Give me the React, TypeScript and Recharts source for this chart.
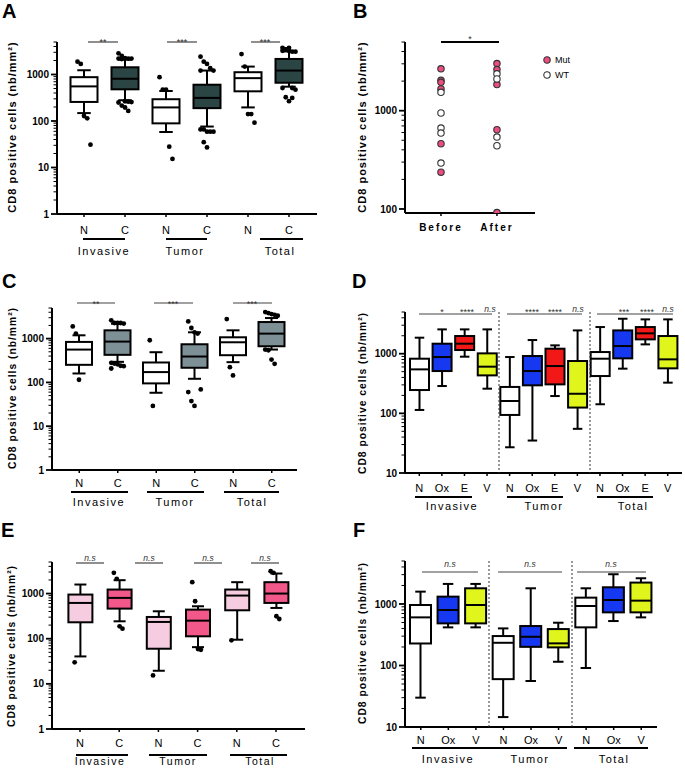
import React from 'react';
import { ComposedChart, ScatterChart, Bar, Scatter, XAxis, YAxis, Legend } from 'recharts';

const FONT = '"Liberation Sans", Arial, Helvetica, sans-serif';

// ---------------- Panel A ----------------
const aGroups = ['Invasive', 'Tumor', 'Total'];
const aCats = ['N', 'C', 'N', 'C', 'N', 'C'];
const aMin = [148, 280, 58, 76, 196, 547];
const aQ1 = [257, 480, 89, 189, 435, 665];
const aMed = [555, 810, 196, 314, 835, 1216];
const aQ3 = [876, 1430, 294, 603, 1120, 2160];
const aMax = [1235, 2085, 442, 1216, 1480, 3130];
const aOut = [
  [1890, 1690, 128, 114, 31],
  [2850, 2500, 2250, 2200, 2200, 2200, 2150, 265, 260, 255, 250, 215, 195, 165],
  [877, 472, 472, 28, 15.3],
  [2413, 1890, 1686, 1364, 1216, 1216, 66, 59, 59, 59, 66, 35, 27],
  [2753, 1480, 141, 141, 92],
  [3750, 3460, 3240, 3090, 3090, 3240, 3460, 3750, 512, 472, 512, 324, 267, 314],
];

// ---------------- Panel B ----------------
const bConds = ['Before', 'After'];
const bBeforeMut = [2664, 2037, 1945, 1664, 461, 237];
const bBeforeWT = [1537, 947, 666, 592, 293];
const bAfterMut = [3016, 2620, 1842, 640, 92];
const bAfterWT = [2370, 2107, 539, 440];

// ---------------- Panel C ----------------
const cGroups = ['Invasive', 'Tumor', 'Total'];
const cCats = ['N', 'C', 'N', 'C', 'N', 'C'];
const cMin = [160, 295, 58, 121, 290, 563];
const cQ1 = [252, 426, 95, 216, 418, 669];
const cMed = [562, 855, 172, 390, 825, 1300];
const cQ3 = [840, 1546, 285, 743, 1072, 2390];
const cMax = [1190, 2192, 489, 1393, 1546, 2950];
const cOut = [
  [1900, 1300, 115],
  [2610, 2270, 2270, 2270, 2200, 280, 270, 260, 240, 235, 208],
  [917, 29],
  [2475, 1746, 1393, 1300, 69, 60, 37.5, 29],
  [2800, 223, 144],
  [4030, 3830, 3630, 3500, 3330, 563, 543, 333, 266],
];

// ---------------- Panel D ----------------
const dGroups = ['Invasive', 'Tumor', 'Total'];
const dCats = ['N', 'Ox', 'E', 'V', 'N', 'Ox', 'E', 'V', 'N', 'Ox', 'E', 'V'];
const dMin = [114, 287, 891, 259, 27, 35, 195, 55, 142, 561, 1433, 327];
const dQ1 = [246, 512, 1152, 433, 94, 295, 306, 125, 422, 835, 1738, 568];
const dMed = [546, 879, 1471, 606, 161, 512, 621, 213, 824, 1344, 2193, 804];
const dQ3 = [824, 1471, 1978, 1013, 277, 914, 1213, 754, 1066, 2458, 2797, 1978];
const dMax = [1855, 2556, 2556, 2556, 879, 1694, 1379, 2458, 2797, 3855, 3761, 3761];

// ---------------- Panel E ----------------
const eGroups = ['Invasive', 'Tumor', 'Total'];
const eCats = ['N', 'C', 'N', 'C', 'N', 'C'];
const eMin = [40.5, 243, 19.5, 65, 95, 480];
const eQ1 = [231, 464, 60, 113, 426, 620];
const eMed = [620, 801, 235, 251, 903, 1000];
const eQ3 = [950, 1227, 303, 441, 1227, 1786];
const eMax = [1585, 1978, 405, 523, 1786, 2780];
const eOut = [
  [30],
  [2880, 2118, 188, 167],
  [15.4],
  [1786, 675, 59, 57],
  [92],
  [3136, 2880, 314, 273],
];

// ---------------- Panel F ----------------
const fGroups = ['Invasive', 'Tumor', 'Total'];
const fCats = ['N', 'Ox', 'V', 'N', 'Ox', 'V', 'N', 'Ox', 'V'];
const fMin = [30, 417, 417, 14.5, 56, 115, 91, 528, 606];
const fQ1 = [228, 484, 484, 60, 201, 197, 417, 731, 731];
const fMed = [606, 798, 963, 234, 293, 229, 928, 1162, 1133];
const fQ3 = [963, 1317, 1800, 301, 438, 391, 1268, 1869, 2229];
const fMax = [1588, 2119, 2119, 401, 1800, 496, 1800, 3046, 2620];

// ---------------- styles ----------------
const PINK = '#ec4d7f';
const aFill: Record<string, string> = { N: '#ffffff', C: '#2b4545' };
const cFill: Record<string, string> = { N: '#ffffff', C: '#7c9096' };
const eFill: Record<string, string> = { N: '#f6cde0', C: '#f2588a' };
const dFill: Record<string, string> = { N: '#ffffff', Ox: '#1538f0', E: '#f21818', V: '#dff51c' };

function buildRows(
  groups: string[], cats: string[], min: number[], q1: number[], med: number[],
  q3: number[], max: number[], out: number[][] | null, fills: Record<string, string>
) {
  const per = cats.length / groups.length;
  return cats.map((c, i) => ({
    key: `${groups[Math.floor(i / per)]}|${c}|${i}`,
    cat: c,
    min: min[i], q1: q1[i], med: med[i], q3: q3[i], max: max[i],
    out: out ? out[i] : [],
    fill: fills[c],
  }));
}

const aRows = buildRows(aGroups, aCats, aMin, aQ1, aMed, aQ3, aMax, aOut, aFill);
const cRows = buildRows(cGroups, cCats, cMin, cQ1, cMed, cQ3, cMax, cOut, cFill);
const dRows = buildRows(dGroups, dCats, dMin, dQ1, dMed, dQ3, dMax, null, dFill);
const eRows = buildRows(eGroups, eCats, eMin, eQ1, eMed, eQ3, eMax, eOut, eFill);
const fRows = buildRows(fGroups, fCats, fMin, fQ1, fMed, fQ3, fMax, null, dFill);

const bMut = [
  ...bBeforeMut.map((v) => ({ x: 0, y: v })),
  ...bAfterMut.map((v) => ({ x: 1, y: v })),
];
const bWT = [
  ...bBeforeWT.map((v) => ({ x: 0, y: v })),
  ...bAfterWT.map((v) => ({ x: 1, y: v })),
];

const isMajor = (v: number) => Math.abs(Math.log10(v) - Math.round(Math.log10(v))) < 1e-9;
function logTicks(lo: number, hi: number) {
  const t: number[] = [];
  for (let e = Math.floor(Math.log10(lo)); e <= Math.ceil(Math.log10(hi)); e++) {
    for (let m = 1; m <= 9; m++) {
      const v = m * Math.pow(10, e);
      if (v >= lo - 1e-9 && v <= hi + 1e-9) t.push(v);
    }
  }
  return t;
}

const YTick = (props: any) => {
  const { x, y, payload } = props;
  const v = payload.value;
  const major = isMajor(v);
  const ax = x + 8;
  return (
    <g>
      <line x1={ax - (major ? 6 : 3.5)} x2={ax} y1={y} y2={y} stroke="#000" strokeWidth={major ? 1.8 : 1} />
      {major && (
        <text x={ax - 8} y={y} dy="0.36em" textAnchor="end" fontFamily={FONT} fontSize={10} fontWeight="bold" fill="#000">
          {v}
        </text>
      )}
    </g>
  );
};

const BoxShape = (props: any) => {
  const { x, y, width, height, payload } = props;
  if (!payload || !isFinite(y) || !isFinite(height)) return null;
  const { q1, q3, med, min, max, out, fill } = payload;
  const l1 = Math.log10(q1);
  const l3 = Math.log10(q3);
  const yBot = y + height;
  const py = (v: number) => yBot - ((Math.log10(v) - l1) / (l3 - l1)) * height;
  const cx = x + width / 2;
  const cap = width * 0.25;
  return (
    <g>
      <line x1={cx} x2={cx} y1={py(max)} y2={y} stroke="#000" strokeWidth={2} />
      <line x1={cx} x2={cx} y1={yBot} y2={py(min)} stroke="#000" strokeWidth={2} />
      <line x1={cx - cap} x2={cx + cap} y1={py(max)} y2={py(max)} stroke="#000" strokeWidth={2} />
      <line x1={cx - cap} x2={cx + cap} y1={py(min)} y2={py(min)} stroke="#000" strokeWidth={2} />
      <rect x={x} y={y} width={width} height={height} fill={fill} stroke="#000" strokeWidth={2} />
      <line x1={x} x2={x + width} y1={py(med)} y2={py(med)} stroke="#000" strokeWidth={2} />
      {(out as number[]).map((v, i) => {
        const spread = ((i % 5) - 2) * width * 0.12;
        return <circle key={i} cx={cx + spread} cy={py(v)} r={2.4} fill="#000" />;
      })}
    </g>
  );
};

type PanelProps = {
  pos: [number, number, number, number];
  margin: { top: number; right: number; bottom: number; left: number };
  yWidth: number;
  domain: [number, number];
  rows: any[];
  barSize: number;
  padding: { left: number; right: number };
  tickMargin: number;
};

function BoxPanel({ pos, margin, yWidth, domain, rows, barSize, padding, tickMargin }: PanelProps) {
  return (
    <div style={{ position: 'absolute', left: pos[0], top: pos[1] }}>
      <ComposedChart width={pos[2]} height={pos[3]} data={rows} margin={margin}>
        <XAxis
          dataKey="key"
          type="category"
          interval={0}
          padding={padding}
          height={20}
          tickFormatter={(v: string) => String(v).split('|')[1]}
          axisLine={{ stroke: '#000', strokeWidth: 2 }}
          tickLine={{ stroke: '#000', strokeWidth: 1.5 }}
          tickSize={3}
          tickMargin={tickMargin}
          tick={{ fill: '#000', fontSize: 11, fontFamily: FONT }}
        />
        <YAxis
          type="number"
          scale="log"
          domain={domain}
          allowDataOverflow
          ticks={logTicks(domain[0], domain[1])}
          interval={0}
          width={yWidth}
          tickSize={5}
          tickMargin={3}
          tickLine={false}
          axisLine={{ stroke: '#000', strokeWidth: 2 }}
          tick={<YTick />}
        />
        <Bar dataKey={(d: any) => [d.q1, d.q3]} barSize={barSize} shape={<BoxShape />} isAnimationActive={false} />
      </ComposedChart>
    </div>
  );
}

const BLegend = (p: any) => (
  <div style={{ fontFamily: FONT, fontSize: 9, color: '#000' }}>
    {(p.payload || []).map((item: any) => (
      <div key={item.value} style={{ display: 'flex', alignItems: 'center', height: 15 }}>
        <svg width={10} height={10}>
          <circle cx={5} cy={5} r={3.2} fill={item.value === 'WT' ? '#fff' : PINK} stroke="#333" strokeWidth={1.1} />
        </svg>
        <span style={{ marginLeft: 3 }}>{item.value}</span>
      </div>
    ))}
  </div>
);

const Overlay = () => {
  const letter = (t: string, x: number, y: number) => (
    <text x={x} y={y} fontFamily={FONT} fontSize={20} fontWeight="bold" fill="#000">{t}</text>
  );
  const ylab = (x: number, y: number, fs: number) => (
    <text transform={`translate(${x},${y}) rotate(-90)`} textAnchor="middle" dy="0.35em"
      fontFamily={FONT} fontSize={fs} fontWeight="bold" letterSpacing={1} fill="#000">
      CD8 positive cells (nb/mm²)
    </text>
  );
  const sig = (x1: number, x2: number, y: number, w = 1.2, col = '#444') => (
    <line x1={x1} x2={x2} y1={y} y2={y} stroke={col} strokeWidth={w} />
  );
  const star = (t: string, x: number, y: number) => (
    <text x={x} y={y} textAnchor="middle" fontFamily={FONT} fontSize={9} fill="#333">{t}</text>
  );
  const ns = (x: number, y: number) => (
    <text x={x} y={y} textAnchor="middle" fontFamily={FONT} fontSize={8.5} fontStyle="italic" fill="#333">n.s</text>
  );
  const under = (x1: number, x2: number, y: number) => (
    <line x1={x1} x2={x2} y1={y} y2={y} stroke="#000" strokeWidth={2} />
  );
  const glab = (t: string, x: number, y: number, fs = 11) => (
    <text x={x} y={y} textAnchor="middle" fontFamily={FONT} fontSize={fs} letterSpacing={1.5} fill="#000">{t}</text>
  );
  const sep = (x: number, y1: number, y2: number) => (
    <line x1={x} x2={x} y1={y1} y2={y2} stroke="#333" strokeWidth={1} strokeDasharray="2 2" />
  );
  return (
    <svg width={685} height={768} style={{ position: 'absolute', left: 0, top: 0, pointerEvents: 'none' }}>
      {letter('A', 2, 18)}
      {letter('B', 353, 18)}
      {letter('C', 2, 288)}
      {letter('D', 352, 288)}
      {letter('E', 1, 537)}
      {letter('F', 353, 537)}

      {ylab(12, 127, 11)}
      {ylab(362, 127, 11)}
      {ylab(12, 388, 10.3)}
      {ylab(362, 393, 10.3)}
      {ylab(11, 646, 10.3)}
      {ylab(362, 643, 10.3)}

      {/* A */}
      {sig(88, 118, 42)}{star('**', 103, 45)}
      {sig(167, 197, 42)}{star('***', 182, 45)}
      {sig(251, 280, 42)}{star('***', 265, 45)}
      {under(83, 125, 239)}{under(166, 207, 239)}{under(260, 303, 239)}
      {glab('Invasive', 104, 255)}{glab('Tumor', 185, 255)}{glab('Total', 280, 255)}

      {/* B */}
      {sig(441, 499, 42, 2, '#000')}{star('*', 470, 42)}

      {/* C */}
      {sig(77, 115, 303)}{star('**', 96, 307)}
      {sig(154, 193, 303)}{star('***', 173, 307)}
      {sig(233, 272, 303)}{star('***', 252, 307)}
      {under(71, 128, 492)}{under(147, 204, 492)}{under(224, 279, 492)}
      {glab('Invasive', 99, 506)}{glab('Tumor', 175, 506)}{glab('Total', 252, 506)}

      {/* D */}
      {sep(499, 312, 473)}{sep(590, 312, 473)}
      {sig(419, 492, 314, 1)}{sig(507, 582, 314, 1)}{sig(597, 673, 314, 1)}
      {star('*', 442, 315)}{star('****', 467, 315)}{ns(490, 312)}
      {star('****', 532, 315)}{star('****', 555, 315)}{ns(578, 312)}
      {star('***', 624, 315)}{star('****', 647, 315)}{ns(668, 312)}
      {under(415, 472, 497)}{under(507, 563, 497)}{under(597, 653, 497)}
      {glab('Invasive', 452, 510)}{glab('Tumor', 544, 510)}{glab('Total', 633, 510)}

      {/* E */}
      {sig(76, 104, 563)}{ns(90, 561)}
      {sig(135, 163, 563)}{ns(149, 561)}
      {sig(194, 222, 563)}{ns(208, 561)}
      {sig(251, 279, 563)}{ns(265, 561)}
      {under(76, 128, 755)}{under(149, 207, 755)}{under(230, 287, 755)}
      {glab('Invasive', 100, 765, 10.5)}{glab('Tumor', 178, 765, 10.5)}{glab('Total', 260, 765, 10.5)}

      {/* F */}
      {sep(489, 561, 727)}{sep(572, 561, 727)}
      {sig(422, 478, 572, 1)}{ns(450, 567)}
      {sig(498, 562, 572, 1)}{ns(530, 567)}
      {sig(577, 646, 572, 1)}{ns(611, 567)}
      {under(412, 495, 748)}{under(494, 567, 748)}{under(574, 648, 748)}
      {glab('Invasive', 448, 763)}{glab('Tumor', 530, 763)}{glab('Total', 614, 763)}
    </svg>
  );
};

export default function App() {
  return (
    <div style={{ position: 'absolute', left: 0, top: 0, width: 685, height: 768, background: '#fff', overflow: 'hidden' }}>
      <BoxPanel pos={[0, 0, 330, 260]} margin={{ top: 42, right: 13, bottom: 26, left: 0 }} yWidth={57}
        domain={[1, 5000]} rows={aRows} barSize={27} padding={{ left: 6.5, right: 7.5 }} tickMargin={9} />

      <div style={{ position: 'absolute', left: 345, top: 0 }}>
        <ScatterChart width={340} height={260} margin={{ top: 42, right: 150, bottom: 27, left: 0 }}>
          <XAxis type="number" dataKey="x" domain={[-0.643, 1.68]} ticks={[0, 1]} allowDataOverflow interval={0}
            tickFormatter={(v: number) => bConds[v]} height={20}
            axisLine={{ stroke: '#000', strokeWidth: 2 }} tickLine={{ stroke: '#000', strokeWidth: 1.5 }}
            tickSize={3} tickMargin={8}
            tick={{ fill: '#000', fontSize: 10, fontWeight: 'bold', fontFamily: FONT, letterSpacing: 2 }} />
          <YAxis type="number" dataKey="y" scale="log" domain={[91, 5000]} allowDataOverflow
            ticks={logTicks(91, 5000).filter((t) => t >= 100)} interval={0} width={60}
            tickSize={5} tickMargin={3} tickLine={false} axisLine={{ stroke: '#000', strokeWidth: 2 }} tick={<YTick />} />
          <Scatter name="Mut" data={bMut} fill={PINK} isAnimationActive={false}
            shape={(p: any) => <circle cx={p.cx} cy={p.cy} r={3.2} fill={PINK} stroke="#333" strokeWidth={1.1} />} />
          <Scatter name="WT" data={bWT} fill="#ffffff" isAnimationActive={false}
            shape={(p: any) => <circle cx={p.cx} cy={p.cy} r={3.2} fill="#fff" stroke="#333" strokeWidth={1.1} />} />
          <Legend layout="vertical" align="center" verticalAlign="middle"
            wrapperStyle={{ left: 197, top: 52.5, width: 60 }} content={<BLegend />} />
        </ScatterChart>
      </div>

      <BoxPanel pos={[0, 260, 330, 250]} margin={{ top: 48, right: 33, bottom: 20, left: 0 }} yWidth={52}
        domain={[1, 5000]} rows={cRows} barSize={26} padding={{ left: 8, right: 6 }} tickMargin={6} />

      <BoxPanel pos={[345, 260, 340, 250]} margin={{ top: 52, right: 3, bottom: 17, left: 0 }} yWidth={60}
        domain={[10, 5000]} rows={dRows} barSize={19} padding={{ left: 3, right: 3 }} tickMargin={8} />

      <BoxPanel pos={[0, 510, 330, 258]} margin={{ top: 52, right: 25, bottom: 19, left: 0 }} yWidth={52}
        domain={[1, 5000]} rows={eRows} barSize={24} padding={{ left: 8.4, right: 9.4 }} tickMargin={7} />

      <BoxPanel pos={[345, 510, 340, 258]} margin={{ top: 51, right: 28, bottom: 21, left: 0 }} yWidth={60}
        domain={[10, 5000]} rows={fRows} barSize={21} padding={{ left: 2, right: 2 }} tickMargin={6} />

      <Overlay />
    </div>
  );
}
